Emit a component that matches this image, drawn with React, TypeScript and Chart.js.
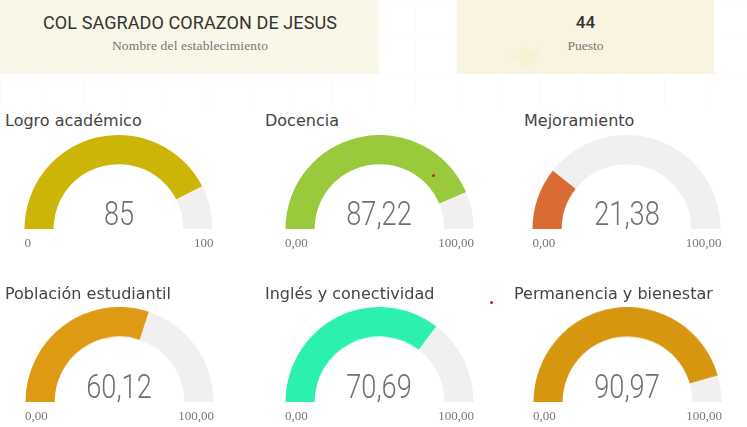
import { useEffect, useRef } from 'react'
import { Chart, registerables } from 'chart.js'

Chart.register(...registerables)

const titles = ['Logro académico', 'Docencia', 'Mejoramiento', 'Población estudiantil', 'Inglés y conectividad', 'Permanencia y bienestar']
const values = [85, 87.22, 21.38, 60.12, 70.69, 90.97]
const valueLabels = ['85', '87,22', '21,38', '60,12', '70,69', '90,97']
const minLabels = ['0', '0,00', '0,00', '0,00', '0,00', '0,00']
const maxLabels = ['100', '100,00', '100,00', '100,00', '100,00', '100,00']
const maxValues = [100, 100, 100, 100, 100, 100]

const colors = ['#cbb507', '#9bc93c', '#d96c34', '#dd9a12', '#2cf0b0', '#d6960f']
const trackColor = '#f1efef'

// gauge placement: centre x, base y, title x
const slots = [
  { cx: 118.5, base: 229, titleX: 5 },
  { cx: 379, base: 229, titleX: 265 },
  { cx: 626.5, base: 229, titleX: 524 },
  { cx: 119, base: 401.5, titleX: 5 },
  { cx: 379, base: 401.5, titleX: 265 },
  { cx: 627, base: 401.5, titleX: 514 },
]
const radius = 94.5

function Gauge({ index }: { index: number }) {
  const chartRef = useRef<HTMLCanvasElement>(null)

  useEffect(() => {
    if (!chartRef.current) return
    const chart = new Chart(chartRef.current, {
      type: 'doughnut',
      data: {
        datasets: [{
          data: [values[index], maxValues[index] - values[index]],
          backgroundColor: [colors[index], trackColor],
          borderWidth: 0,
        }],
      },
      options: {
        responsive: false,
        animation: false,
        circumference: 180,
        rotation: -90,
        cutout: '69%',
        layout: { padding: 0 },
        plugins: { legend: { display: false }, tooltip: { enabled: false } },
      },
    })
    return () => chart.destroy()
  }, [index])

  const s = slots[index]
  const label = { position: 'absolute' as const, font: '13px "Liberation Serif"', color: '#777777', top: s.base + 6 }

  return (
    <>
      <div style={{ position: 'absolute', left: s.titleX, top: s.base - 118, font: '16px "DejaVu Sans"', color: '#444444', whiteSpace: 'nowrap' }}>
        {titles[index]}
      </div>
      <canvas
        ref={chartRef}
        width={radius * 2}
        height={radius}
        style={{ position: 'absolute', left: s.cx - radius, top: s.base - radius, width: radius * 2, height: radius }}
      />
      <div style={{ position: 'absolute', left: s.cx - 60, width: 120, textAlign: 'center', top: s.base - 36, font: '300 34px Roboto', color: '#717171', transform: 'scaleX(0.8)' }}>
        {valueLabels[index]}
      </div>
      <div style={{ ...label, left: s.cx - 94 }}>{minLabels[index]}</div>
      <div style={{ ...label, left: s.cx + 35, width: 60, textAlign: 'right' }}>{maxLabels[index]}</div>
    </>
  )
}

const dot = { position: 'absolute' as const, width: 3, height: 3, borderRadius: 2, background: '#c0262d' }

export default function App() {
  return (
    <div style={{
      position: 'absolute', left: 0, top: 0, width: 747, height: 427, overflow: 'hidden', background: '#ffffff',
    }}>
      <style>{'body{margin:0}'}</style>
      <div style={{ position: 'absolute', left: 0, top: 0, width: 379, height: 74, background: '#f9f7e8' }} />
      <div style={{ position: 'absolute', left: 457, top: 0, width: 257, height: 74, background: '#f8f4e0' }} />
      <div style={{
        position: 'absolute', left: 0, top: 0, width: 747, height: 108,
        backgroundImage: 'linear-gradient(#f3f4f2 1px, transparent 1px), linear-gradient(90deg, #f3f4f2 1px, transparent 1px)',
        backgroundSize: '41.5px 36px',
        opacity: 0.3,
      }} />
      <svg style={{ position: 'absolute', left: 507, top: 41 }} width={38} height={30} viewBox="0 0 38 30">
        <polygon points="1,15 13,13 18,2 23,11 35,5 28,16 36,23 24,21 18,29 15,21" fill="#f7f2d4" />
      </svg>
      <div style={{ position: 'absolute', left: 0, width: 380, textAlign: 'center', top: 12, font: '400 18px Roboto', letterSpacing: 0.1, color: '#333333' }}>
        COL SAGRADO CORAZON DE JESUS
      </div>
      <div style={{ position: 'absolute', left: 0, width: 380, textAlign: 'center', top: 38, font: '13.5px "Liberation Serif"', letterSpacing: 0.15, color: '#777777' }}>
        Nombre del establecimiento
      </div>
      <div style={{ position: 'absolute', left: 457, width: 257, textAlign: 'center', top: 12, font: '500 17px Roboto', color: '#333333' }}>
        44
      </div>
      <div style={{ position: 'absolute', left: 457, width: 257, textAlign: 'center', top: 38, font: '13.5px "Liberation Serif"', color: '#777777' }}>
        Puesto
      </div>
      {titles.map((_, i) => <Gauge key={i} index={i} />)}
      <div style={{ ...dot, left: 432, top: 174 }} />
      <div style={{ ...dot, left: 490, top: 301 }} />
    </div>
  )
}
